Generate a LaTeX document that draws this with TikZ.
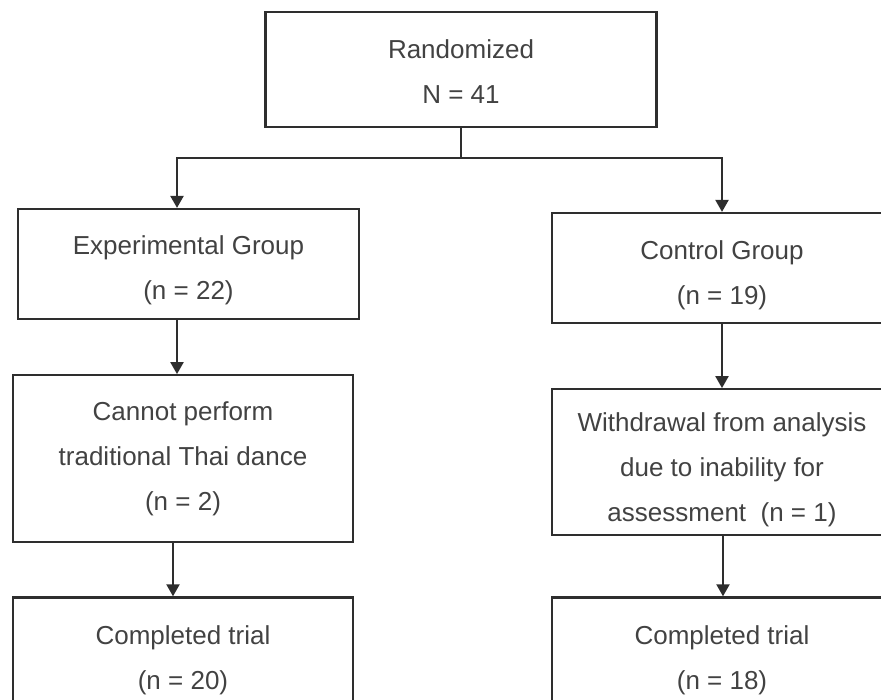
\documentclass[tikz,border=0pt]{standalone}
\usepackage{fontspec}
\setmainfont{Liberation Sans}
\usetikzlibrary{positioning,arrows.meta}
\definecolor{linegray}{HTML}{2E2E2E}
\definecolor{textgray}{HTML}{424242}
\newcommand{\dropline}[1]{\rule{0pt}{#1}}

\begin{document}
\begin{tikzpicture}[x=1pt, y=-1pt,
	box/.style={draw=linegray, line width=2.2pt, align=center, text=textgray,
		font=\fontsize{26}{45}\selectfont, inner sep=0pt},
	flow/.style={-{Triangle[width=13pt,length=12pt]}, draw=linegray, line width=2.2pt}]

	\useasboundingbox (0,0) rectangle (881,699);

	\node [box, minimum width=391pt, minimum height=115pt] (rand) at (461,69.5)
		{\dropline{22pt}Randomized\\N = 41};

		\node [box, minimum width=341pt, minimum height=110pt] (exp) at (188.5,264)
		{\dropline{31pt}Experimental Group\\(n = 22)};

		\node [box, minimum width=340pt, minimum height=110pt] (ctrl) at (722,268)
		{\dropline{33pt}Control Group\\(n = 19)};

		\node [box, minimum width=340pt, minimum height=167pt,
		below=54pt of exp, xshift=-5.5pt] (cannot)
		{Cannot perform\\traditional Thai dance\\(n = 2)};

		\node [box, minimum width=340pt, minimum height=125pt,
		below=53pt of cannot] (done1) {Completed trial\\(n = 20)};

		\node [box, minimum width=340pt, minimum height=146pt,
		below=64pt of ctrl] (withdraw)
		{\dropline{33pt}Withdrawal from analysis\\due to inability for\\assessment\ \ (n = 1)};

		\node [box, minimum width=340pt, minimum height=125pt,
		below=60pt of withdraw] (done2) {Completed trial\\(n = 18)};

		\draw[draw=linegray, line width=2.2pt] (rand.south) -- ++(0,30) coordinate (split);

		\draw[flow] (split) -| ([xshift=-11.5pt]exp.north);

		\draw[flow] (split) -| (ctrl.north);

		\draw[flow] ([xshift=-11.5pt]exp.south) -- ([xshift=-6pt]cannot.north);

		\draw[flow] ([xshift=-10pt]cannot.south) -- ([xshift=-10pt]done1.north);

		\draw[flow] (ctrl.south) -- (withdraw.north);

		\draw[flow] ([xshift=1pt]withdraw.south) -- ([xshift=1pt]done2.north);

	\end{tikzpicture}
\end{document}
